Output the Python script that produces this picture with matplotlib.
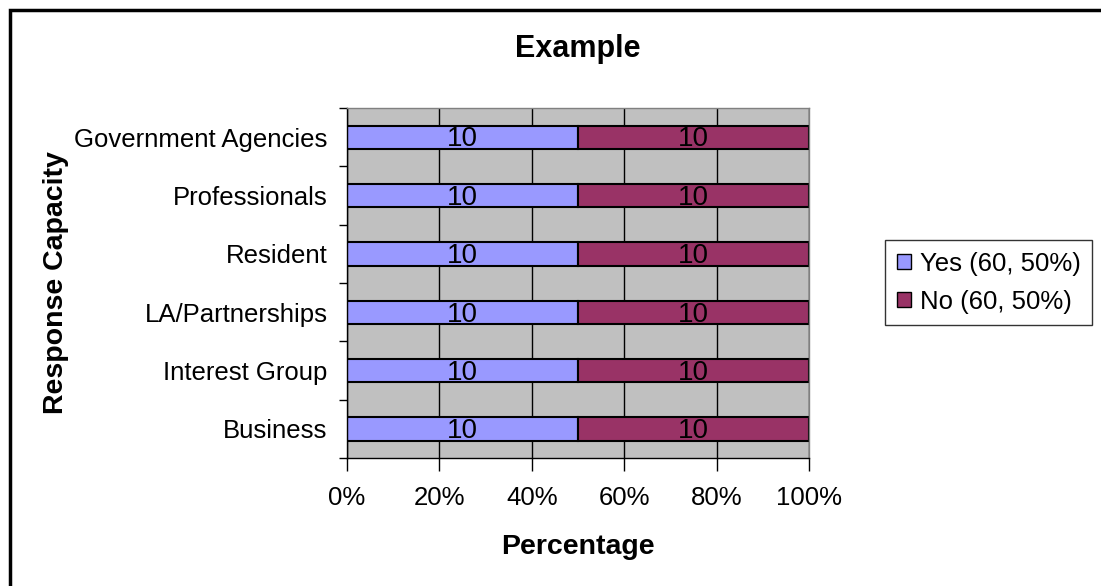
import numpy as np
import matplotlib
matplotlib.use('Agg')
import matplotlib.pyplot as plt
from matplotlib.patches import Rectangle, Patch
from matplotlib.ticker import PercentFormatter

# Response counts per capacity
categories = ['Business', 'Interest Group', 'LA/Partnerships', 'Resident',
              'Professionals', 'Government Agencies']
yes_counts = [10, 10, 10, 10, 10, 10]
no_counts = [10, 10, 10, 10, 10, 10]
legend_labels = ['Yes (60, 50%)', 'No (60, 50%)']
xticks = [0, 0.2, 0.4, 0.6, 0.8, 1.0]

plt.rcParams['font.family'] = ['Liberation Sans', 'DejaVu Sans']

W, H = 1101, 586
fig = plt.figure(figsize=(W / 100, H / 100), dpi=100)

# plot area in pixels
left, right, top, bottom = 347, 809, 108, 458
ax = fig.add_axes([left / W, 1 - bottom / H, (right - left) / W, (bottom - top) / H])
ax.set_facecolor('#C0C0C0')

yes = np.array(yes_counts, dtype=float)
no = np.array(no_counts, dtype=float)
tot = yes + no
yes_frac = yes / tot
no_frac = no / tot
y = np.arange(len(categories))

ax.set_axisbelow(True)
ax.grid(axis='x', color='black', lw=1)

ax.barh(y, yes_frac, height=0.4, color='#9999FF', edgecolor='black', lw=1.5)
ax.barh(y, no_frac, left=yes_frac, height=0.4, color='#993366', edgecolor='black', lw=1.5)

fs = 18.5
for i in range(len(categories)):
    ax.text(yes_frac[i] / 2, y[i] - 0.04, str(yes_counts[i]), ha='center', va='center', fontsize=20)
    ax.text(yes_frac[i] + no_frac[i] / 2, y[i] - 0.04, str(no_counts[i]), ha='center', va='center',
            fontsize=20)

ax.set_xlim(0, 1)
ax.set_ylim(-0.5, len(categories) - 0.5)
ax.set_xticks(xticks)
ax.xaxis.set_major_formatter(PercentFormatter(1.0, decimals=0))
ax.set_yticks(y)
ax.set_yticklabels(categories)
ax.set_yticks(np.arange(-0.5, len(categories)), minor=True)
ax.tick_params(axis='y', which='major', length=0, pad=14, labelsize=fs)
ax.tick_params(axis='y', which='minor', length=6, width=1, color='black')
ax.tick_params(axis='x', length=9, width=1, pad=11, labelsize=fs)

for s in ['left', 'bottom']:
    ax.spines[s].set_color('black')
    ax.spines[s].set_linewidth(1)
for s in ['top', 'right']:
    ax.spines[s].set_color('#808080')
    ax.spines[s].set_linewidth(1)

fig.text(578 / W, 1 - 49 / H, 'Example', ha='center', va='center', fontsize=22, fontweight='bold')
fig.text(578 / W, 1 - 547 / H, 'Percentage', ha='center', va='center', fontsize=20.5, fontweight='bold')
fig.text(56 / W, 1 - 283 / H, 'Response Capacity', ha='center', va='center', rotation=90,
         fontsize=20.5, fontweight='bold')

handles = [Patch(facecolor='#9999FF', edgecolor='black'),
           Patch(facecolor='#993366', edgecolor='black')]
leg = fig.legend(handles, legend_labels, loc='upper left',
                 bbox_to_anchor=(885 / W, 1 - 240 / H), frameon=True, fancybox=False,
                 fontsize=fs, handlelength=0.55, handleheight=0.55, handletextpad=0.35,
                 borderaxespad=0, labelspacing=0.55, borderpad=0.45)
leg.get_frame().set_edgecolor('black')
leg.get_frame().set_linewidth(1)

# outer chart border
fig.add_artist(Rectangle((9.5 / W, -0.1), 1.2, 1.1 - 9.5 / H, transform=fig.transFigure,
                         fill=False, lw=2.5, ec='black'))

fig.savefig('out.png', dpi=100)
